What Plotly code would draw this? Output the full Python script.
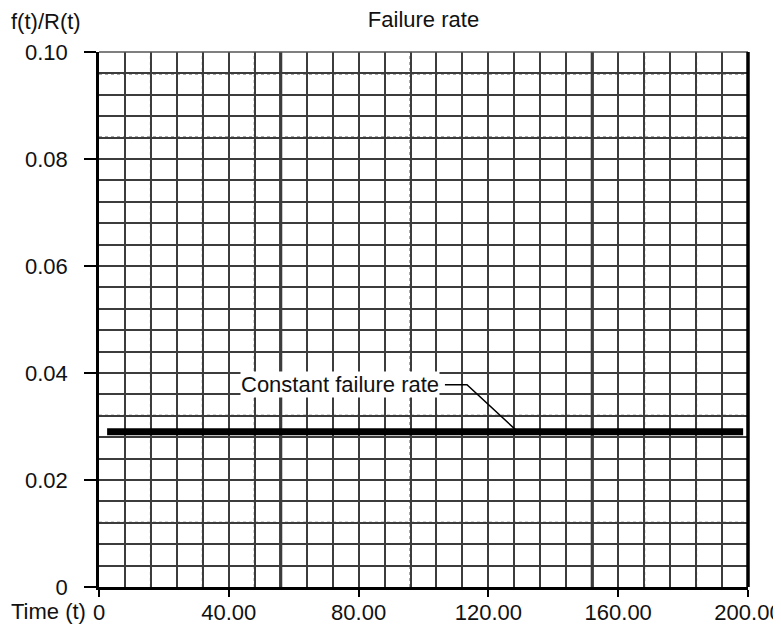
import plotly.graph_objects as go

# ---- data ----
time_t = [2.5, 198.5]
failure_rate = [0.029, 0.029]

x_tick_vals = [0, 40, 80, 120, 160, 200]
x_tick_text = ["0", "40.00", "80.00", "120.00", "160.00", "200.00"]
y_tick_vals = [0, 0.02, 0.04, 0.06, 0.08, 0.10]
y_tick_text = ["0", "0.02", "0.04", "0.06", "0.08", "0.10"]

title_text = "Failure rate"
y_label = "f(t)/R(t)"
x_label = "Time (t)"
note_text = "Constant failure rate"

# ---- style constants ----
FONT = "Liberation Sans, Arial, sans-serif"
FS = 22
GRID = "#3c3c3c"
W, H = 773, 618          # page has an 8px body margin
L, T, R, B = 91, 44, 33, 39
PW, PH = W - L - R, H - T - B
thick_v = [56, 152]
dotted_v = [16, 32, 48, 96, 168, 184]
dotted_h = [0.096, 0.084, 0.032, 0.012]
leader_x = [106.6, 113.4, 129.1]
leader_y = [0.0378, 0.0378, 0.029]

fig = go.Figure()

fig.add_trace(go.Scatter(x=time_t, y=failure_rate, mode="lines",
                         line=dict(color="black", width=7), showlegend=False,
                         hoverinfo="skip"))
fig.add_trace(go.Scatter(x=leader_x, y=leader_y, mode="lines",
                         line=dict(color="black", width=1.5), showlegend=False,
                         hoverinfo="skip"))

shapes = []
for xv in dotted_v:
    shapes.append(dict(type="line", xref="x", yref="paper", x0=xv, x1=xv, y0=0, y1=1,
                       line=dict(color="white", width=2.5), layer="below"))
    shapes.append(dict(type="line", xref="x", yref="paper", x0=xv, x1=xv, y0=0, y1=1,
                       line=dict(color="#505050", width=2, dash="dot"), layer="below"))
for yv in dotted_h:
    shapes.append(dict(type="line", xref="paper", yref="y", x0=0, x1=1, y0=yv, y1=yv,
                       line=dict(color="white", width=2.5), layer="below"))
    shapes.append(dict(type="line", xref="paper", yref="y", x0=0, x1=1, y0=yv, y1=yv,
                       line=dict(color="#505050", width=2, dash="dot"), layer="below"))
for xv in thick_v:
    shapes.append(dict(type="line", xref="x", yref="paper", x0=xv, x1=xv, y0=0, y1=1,
                       line=dict(color="#111", width=3), layer="below"))
# 0.04 slightly heavier
shapes.append(dict(type="line", xref="paper", yref="y", x0=0, x1=1, y0=0.04, y1=0.04,
                   line=dict(color="#222", width=2), layer="below"))
# top border (thin gray) and right border (thick black)
shapes.append(dict(type="line", xref="paper", yref="paper", x0=0, x1=1, y0=1, y1=1,
                   line=dict(color="#555", width=1.5), layer="above"))
shapes.append(dict(type="line", xref="paper", yref="paper", x0=1, x1=1, y0=0, y1=1,
                   line=dict(color="black", width=3.5), layer="above"))

annotations = [
    dict(text=note_text, x=leader_x[0] - 1.5, y=leader_y[0], xref="x", yref="y",
         xanchor="right", yanchor="middle", showarrow=False, bgcolor="white",
         font=dict(family=FONT, size=FS, color="#111"), borderpad=0),
    dict(text=y_label, x=-(L - 1) / PW, y=(PH + 30) / PH, xref="paper", yref="paper",
         xanchor="left", yanchor="middle", showarrow=False,
         font=dict(family=FONT, size=FS, color="#111")),
    dict(text=x_label, x=-(L - 1) / PW, y=-24 / PH, xref="paper", yref="paper",
         xanchor="left", yanchor="middle", showarrow=False,
         font=dict(family=FONT, size=FS, color="#111")),
]

fig.update_layout(
    width=W, height=H,
    margin=dict(l=L, r=R, t=T, b=B, autoexpand=False),
    paper_bgcolor="white", plot_bgcolor="white",
    title=dict(text=title_text, x=(L + PW / 2) / W, xanchor="center",
               y=1 - 11 / H, yanchor="middle",
               font=dict(family=FONT, size=FS, color="#111")),
    font=dict(family=FONT, size=FS, color="#111"),
    shapes=shapes, annotations=annotations,
    xaxis=dict(range=[0, 200], tickvals=x_tick_vals, ticktext=x_tick_text,
               showgrid=True, gridcolor=GRID, gridwidth=1.5,
               minor=dict(dtick=8, showgrid=True, gridcolor=GRID, gridwidth=1.5),
               showline=True, linecolor="black", linewidth=2.5,
               ticks="outside", ticklen=7, tickwidth=2, tickcolor="black",
               ticklabelstandoff=-3,
               automargin=False, ticklabeloverflow="allow",
               zeroline=False, fixedrange=True),
    yaxis=dict(range=[0, 0.1], tickvals=y_tick_vals, ticktext=y_tick_text,
               showgrid=True, gridcolor=GRID, gridwidth=1.5,
               minor=dict(dtick=0.004, showgrid=True, gridcolor=GRID, gridwidth=1.5),
               showline=True, linecolor="black", linewidth=2.5,
               ticks="outside", ticklen=12, tickwidth=2, tickcolor="black",
               ticklabelstandoff=12, automargin=False, ticklabeloverflow="allow",
               zeroline=False, fixedrange=True),
)

fig.write_html("out.html")
